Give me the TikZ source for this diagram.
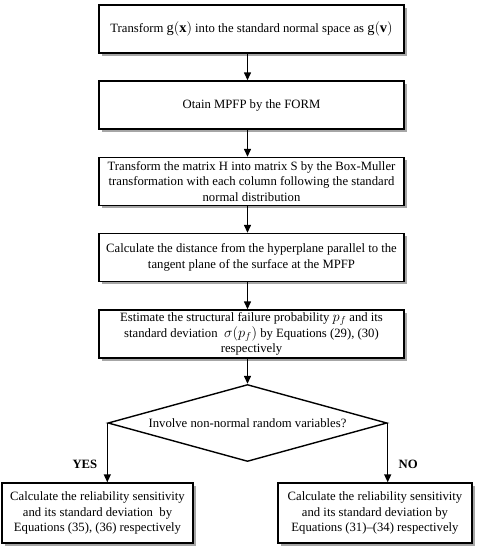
\documentclass[tikz,border=0pt]{standalone}
\usepackage{fontspec}
\setmainfont{Liberation Serif}
\usetikzlibrary{arrows.meta,shapes.geometric,shadows}

\begin{document}
\begin{tikzpicture}[x=1pt,y=-1pt,
			box/.style={draw,fill=white,line width=1.4pt,minimum width=305pt,minimum height=48pt,
				align=center,inner sep=1pt,font=\fontsize{12.7}{15.5}\selectfont,
				drop shadow={shadow xshift=2.5pt,shadow yshift=-2.5pt,fill=gray!70,opacity=1}},
			endbox/.style={box,minimum height=60pt},
			decision/.style={draw,diamond,line width=1.4pt,aspect=3.6,inner sep=0pt,
				minimum width=279pt,minimum height=77pt,font=\fontsize{12.7}{15.5}\selectfont},
			arr/.style={line width=1.4pt,-{Triangle[length=8pt,width=7pt]}}
			]
			\useasboundingbox (0,0) rectangle (485,550);
			\node[box] (trans) at (251.5,29) {Transform {\Large$\mathrm{g}(\mathbf{x})$} into the standard normal space as {\Large$\mathrm{g}(\mathbf{v})$}};
			\node[box] (form) at (251.5,105) {Otain MPFP by the FORM};
			\node[box] (boxmuller) at (251.5,181.5) {Transform the matrix H into matrix S by the Box-Muller\\ transformation with each column following the standard\\ normal distribution};
			\node[box] (dist) at (251.5,257.5) {Calculate the distance from the hyperplane parallel to the\\ tangent plane of the surface at the MPFP};
			\node[box] (prob) at (251.5,334) {Estimate the structural failure probability {\Large$p_f$} and its\\ standard deviation~ {\Large$\sigma(p_f)$} by Equations (29), (30)\\ respectively};
			\node[decision] (dec) at (247.5,423) {Involve non-normal random variables?};
			\node[endbox,minimum width=191pt] (yesbox) at (97.5,513) {Calculate the reliability sensitivity\\ and its standard deviation~ by\\ Equations (35), (36) respectively};
			\node[endbox,minimum width=194pt] (nobox) at (375,513) {Calculate the reliability sensitivity\\ and its standard deviation by\\ Equations (31)--(34) respectively};
			% main column
			\draw[arr] (trans.south -| dec.north)--(form.north -| dec.north);
			\draw[arr] (form.south -| dec.north)--(boxmuller.north -| dec.north);
			\draw[arr] (boxmuller.south -| dec.north)--(dist.north -| dec.north);
			\draw[arr] (dist.south -| dec.north)--(prob.north -| dec.north);
			\draw[arr] (prob.south -| dec.north)--(dec.north);
			% branches
			\draw[arr] (dec.west)--node[pos=0.7,left=6pt,font=\fontsize{12.7}{15.5}\selectfont\bfseries]{YES}(dec.west |- yesbox.north);
			\draw[arr] (dec.east)--node[pos=0.7,right=7pt,font=\fontsize{12.7}{15.5}\selectfont\bfseries]{NO}(dec.east |- nobox.north);
		\end{tikzpicture}
\end{document}
